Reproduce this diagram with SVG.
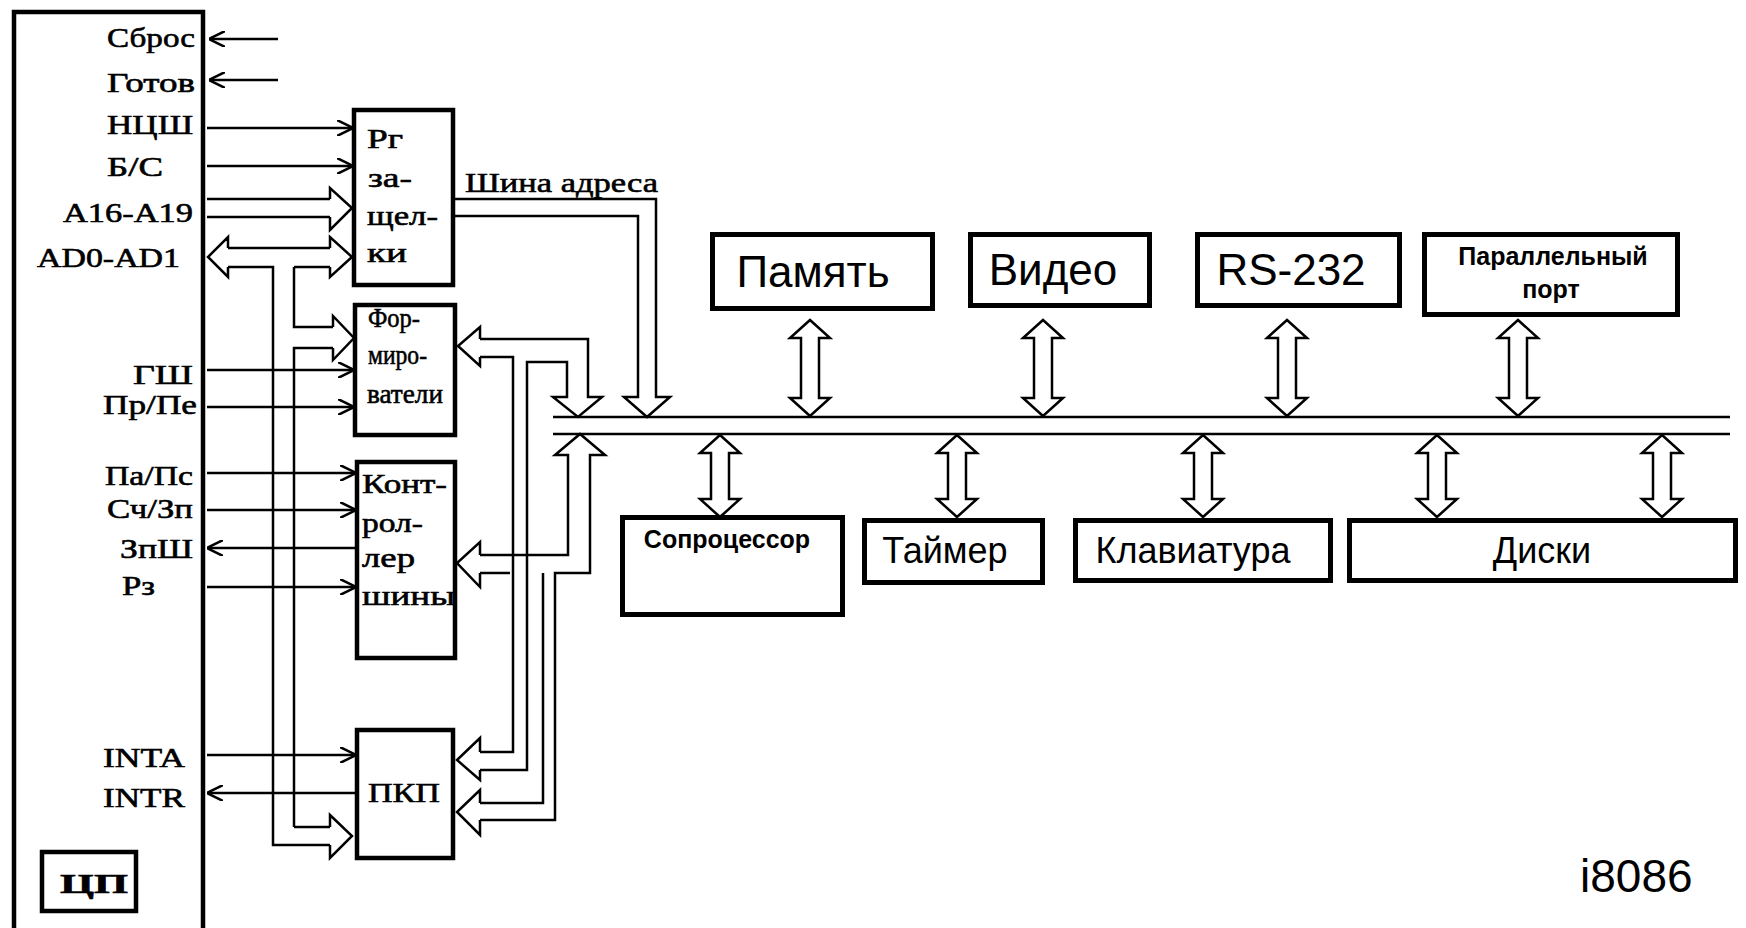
<svg xmlns="http://www.w3.org/2000/svg" xmlns:xlink="http://www.w3.org/1999/xlink" width="1746" height="928" viewBox="0 0 1746 928">
<defs>
<style>
.box{fill:#fff;stroke:#000;stroke-width:5}
.lbox{fill:#fff;stroke:#000;stroke-width:4.5}
.sig{font-family:"Liberation Serif","Times New Roman",serif;font-size:28px;fill:#000;stroke:#000;stroke-width:0.6}
.dev{font-family:"Liberation Sans",Arial,sans-serif;fill:#000}
.ln{fill:none;stroke:#000;stroke-width:2.5}
.ar{fill:none;stroke:#000;stroke-width:2.5;marker-end:url(#oa)}
.dbl{fill:#fff;stroke:#000;stroke-width:2.5;stroke-linejoin:miter}
</style>
<marker id="oa" viewBox="0 0 16 16" refX="15" refY="8" markerWidth="16" markerHeight="16" markerUnits="userSpaceOnUse" orient="auto">
<path d="M0,0 L16,8 L0,16" fill="none" stroke="#000" stroke-width="2.5"/>
</marker>
<polygon id="dA" points="0,0 20,18 9,18 9,78 20,78 0,96 -20,78 -9,78 -9,18 -20,18"/>
<polygon id="dB" points="0,0 20,18 9,18 9,64 20,64 0,82 -20,64 -9,64 -9,18 -20,18"/>
</defs>
<rect width="1746" height="928" fill="#fff"/>

<g id="cpu">
<rect class="lbox" x="14" y="12" width="189" height="940"/>
<text class="sig" x="107" y="47" textLength="88" lengthAdjust="spacingAndGlyphs">Сброс</text>
<text class="sig" x="107" y="92" textLength="88" lengthAdjust="spacingAndGlyphs">Готов</text>
<text class="sig" x="107" y="134" textLength="86" lengthAdjust="spacingAndGlyphs">НЦШ</text>
<text class="sig" x="107" y="176" textLength="56" lengthAdjust="spacingAndGlyphs">Б/С</text>
<text class="sig" x="63" y="222" textLength="130" lengthAdjust="spacingAndGlyphs">A16-A19</text>
<text class="sig" x="37" y="267" textLength="143" lengthAdjust="spacingAndGlyphs">AD0-AD1</text>
<text class="sig" x="133" y="384" textLength="60" lengthAdjust="spacingAndGlyphs">ГШ</text>
<text class="sig" x="103" y="414" textLength="94" lengthAdjust="spacingAndGlyphs">Пр/Пе</text>
<text class="sig" x="105" y="485" textLength="88" lengthAdjust="spacingAndGlyphs">Па/Пс</text>
<text class="sig" x="107" y="518" textLength="86" lengthAdjust="spacingAndGlyphs">Сч/Зп</text>
<text class="sig" x="120" y="558" textLength="73" lengthAdjust="spacingAndGlyphs">ЗпШ</text>
<text class="sig" x="122" y="595" textLength="33" lengthAdjust="spacingAndGlyphs">Рз</text>
<text class="sig" x="103" y="767" textLength="82" lengthAdjust="spacingAndGlyphs">INTA</text>
<text class="sig" x="103" y="807" textLength="82" lengthAdjust="spacingAndGlyphs">INTR</text>
<g id="cpu-label">
<rect class="lbox" x="42" y="852" width="94" height="59"/>
<text class="sig" x="60" y="893" font-size="40" font-weight="bold" textLength="68" lengthAdjust="spacingAndGlyphs">ЦП</text>
</g>
</g>

<g id="latch">
<rect class="lbox" x="354" y="110" width="99" height="175"/>
<text class="sig" x="367" y="148" textLength="36" lengthAdjust="spacingAndGlyphs">Рг</text>
<text class="sig" x="368" y="187" textLength="44" lengthAdjust="spacingAndGlyphs">за-</text>
<text class="sig" x="367" y="225" textLength="71" lengthAdjust="spacingAndGlyphs">щел-</text>
<text class="sig" x="367" y="262" textLength="40" lengthAdjust="spacingAndGlyphs">ки</text>
</g>

<g id="drivers">
<rect class="lbox" x="355" y="305" width="100" height="130"/>
<text class="sig" x="368" y="327" textLength="52" lengthAdjust="spacingAndGlyphs">Фор-</text>
<text class="sig" x="368" y="364" textLength="59" lengthAdjust="spacingAndGlyphs">миро-</text>
<text class="sig" x="367" y="403" textLength="76" lengthAdjust="spacingAndGlyphs">ватели</text>
</g>

<g id="bus-controller">
<rect class="lbox" x="357" y="462" width="98" height="196"/>
<text class="sig" x="362" y="493" textLength="85" lengthAdjust="spacingAndGlyphs">Конт-</text>
<text class="sig" x="362" y="532" textLength="61" lengthAdjust="spacingAndGlyphs">рол-</text>
<text class="sig" x="362" y="567" textLength="53" lengthAdjust="spacingAndGlyphs">лер</text>
<text class="sig" x="362" y="605" textLength="93" lengthAdjust="spacingAndGlyphs">шины</text>
</g>

<g id="pic">
<rect class="lbox" x="357" y="730" width="96" height="128"/>
<text class="sig" x="368" y="802" textLength="72" lengthAdjust="spacingAndGlyphs">ПКП</text>
</g>

<g id="memory">
<rect class="box" x="712.5" y="234.5" width="220" height="74"/>
<text class="dev" x="813" y="287" font-size="44" text-anchor="middle">Память</text>
</g>
<g id="video">
<rect class="box" x="970.5" y="234.5" width="179" height="71"/>
<text class="dev" x="1053" y="285" font-size="44" text-anchor="middle">Видео</text>
</g>
<g id="rs232">
<rect class="box" x="1197.5" y="234.5" width="202" height="71"/>
<text class="dev" x="1291" y="285" font-size="44" text-anchor="middle">RS-232</text>
</g>
<g id="parallel">
<rect class="box" x="1424.5" y="234.5" width="253" height="80"/>
<text class="dev" x="1553" y="265" font-size="25" font-weight="bold" text-anchor="middle">Параллельный</text>
<text class="dev" x="1551" y="298" font-size="25" font-weight="bold" text-anchor="middle">порт</text>
</g>
<g id="coprocessor">
<rect class="box" x="622.5" y="517.5" width="220" height="97"/>
<text class="dev" x="727" y="548" font-size="25" font-weight="bold" text-anchor="middle">Сопроцессор</text>
</g>
<g id="timer">
<rect class="box" x="864.5" y="520.5" width="178" height="62"/>
<text class="dev" x="945" y="563" font-size="36" text-anchor="middle">Таймер</text>
</g>
<g id="keyboard">
<rect class="box" x="1075.5" y="520.5" width="255" height="60"/>
<text class="dev" x="1193" y="563" font-size="36" text-anchor="middle">Клавиатура</text>
</g>
<g id="disks">
<rect class="box" x="1349.5" y="520.5" width="386" height="60"/>
<text class="dev" x="1542" y="563" font-size="36" text-anchor="middle">Диски</text>
</g>

<g id="caption">
<text class="dev" x="1580" y="892" font-size="46">i8086</text>
<text class="sig" x="465" y="192" textLength="193" lengthAdjust="spacingAndGlyphs">Шина адреса</text>
</g>

<g id="connectors">
<path class="ln" d="M553,417 H1730 M553,434 H1730"/>
<path class="ar" d="M278,39 H210"/>
<path class="ar" d="M278,80 H210"/>
<path class="ar" d="M207,128 H352"/>
<path class="ar" d="M207,166 H352"/>
<path class="ar" d="M207,370 H353"/>
<path class="ar" d="M207,407 H353"/>
<path class="ar" d="M207,473 H355"/>
<path class="ar" d="M207,510 H355"/>
<path class="ar" d="M355,548 H208"/>
<path class="ar" d="M207,587 H355"/>
<path class="ar" d="M207,755 H355"/>
<path class="ar" d="M355,793 H208"/>
<path class="ln" d="M207,199 H330 M207,217 H330 M330,199 V188 L352,208 L330,230 V217"/>
<path class="ln" d="M228,248 V237 L208,257 L228,277 V267 M330,248 V237 L352,257 L330,277 V267 M228,248 H330 M228,267 H273 V845 H330 M294,267 H330 M294,267 V327 H333 M294,827 V348 H333 M294,827 H330"/>
<path class="ln" d="M333,327 V316 L354,338 L333,360 V348"/>
<path class="ln" d="M330,827 V815 L352,836 L330,858 V845"/>
<path class="ln" d="M455,199 H656 V397 H670 L647,417 L624,397 H638 V216 H455"/>
<path class="ln" d="M480,339 V327 L458,346 L480,366 V357 M480,339 H588 V397 H602 L578,417 L553,397 H567 V362 H527 V770 H480 M480,357 H513 V752 H480"/>
<path class="ln" d="M480,555 V542 L457,563 L480,587 V573 M480,555 H568 V455 H555 L580,434 L605,455 H590 V573 H555 V820 H480 M480,573 H510 M543,573 V803 H480"/>
<path class="ln" d="M480,752 V738 L457,760 L480,780 V770 M480,803 V790 L457,812 L480,835 V820"/>
<g class="dbl">
<use xlink:href="#dA" x="810" y="320"/>
<use xlink:href="#dA" x="1043" y="320"/>
<use xlink:href="#dA" x="1287" y="320"/>
<use xlink:href="#dA" x="1518" y="320"/>
<use xlink:href="#dB" x="720" y="435"/>
<use xlink:href="#dB" x="957" y="435"/>
<use xlink:href="#dB" x="1203" y="435"/>
<use xlink:href="#dB" x="1437" y="435"/>
<use xlink:href="#dB" x="1662" y="435"/>
</g>
</g>
</svg>
